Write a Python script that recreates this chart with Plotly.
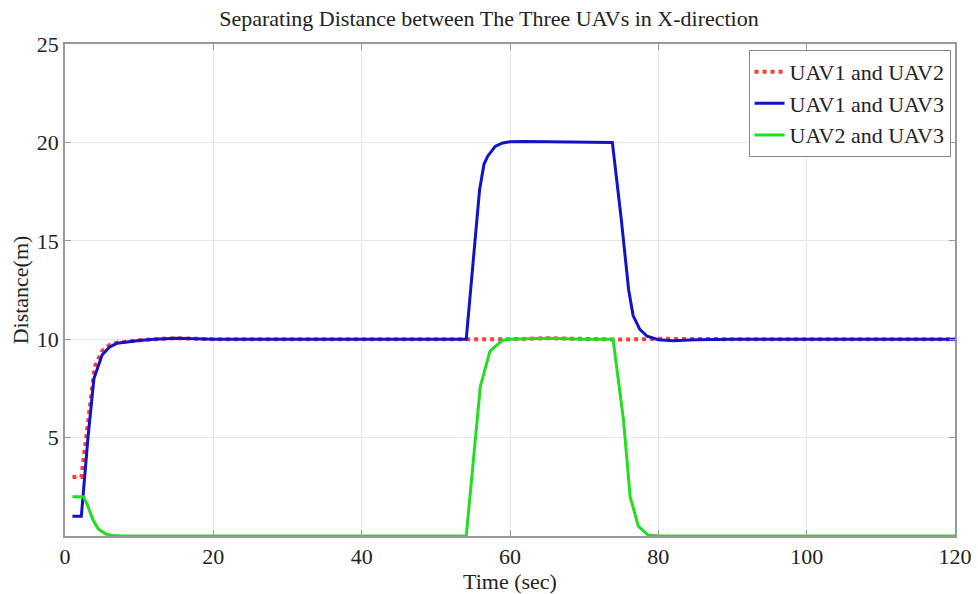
import plotly.graph_objects as go

# UAV1 and UAV2
t12 = [1, 2.2, 3.15, 4, 5, 6, 7, 8, 10, 12, 15, 20, 30, 54, 56, 58, 60, 65, 70, 75, 78, 80, 90, 120]
d12 = [3, 3, 5.9, 8.6, 9.4, 9.7, 9.82, 9.88, 9.95, 10.0, 10.05, 10.0, 10.0, 10.0, 9.95, 9.95, 10.0, 10.05, 10.0, 9.98, 10.0, 10.02, 10.0, 10.0]

# UAV1 and UAV3
t13 = [1, 2.2, 3.1, 3.9, 5, 6, 7, 8, 10, 12, 15, 20, 54.1, 55.9, 56.5, 57, 58, 59, 60, 62, 70, 73.8, 75.0, 76.0, 76.6, 77.5, 78.5, 80, 82, 85, 90, 120]
d13 = [1, 1, 5.0, 8.0, 9.2, 9.6, 9.8, 9.85, 9.93, 10.0, 10.05, 10.0, 10.0, 17.6, 18.9, 19.3, 19.8, 19.97, 20.03, 20.05, 20.0, 20.0, 16.1, 12.5, 11.2, 10.5, 10.15, 9.97, 9.92, 9.97, 10.0, 10.0]

# UAV2 and UAV3
t23 = [1, 2.5, 3, 3.8, 4.5, 5.5, 6.5, 8, 54.1, 56, 57.3, 59, 60, 65, 70, 73.9, 75.3, 76.2, 77.3, 78.6, 80, 120]
d23 = [2, 2, 1.6, 0.8, 0.35, 0.1, 0.02, 0, 0, 7.6, 9.4, 9.95, 10.0, 10.05, 10.0, 10.0, 5.9, 2.0, 0.5, 0.05, 0, 0]

xticks = [0, 20, 40, 60, 80, 100, 120]
yticks = [5, 10, 15, 20, 25]

font = "Liberation Serif, Times New Roman, serif"

fig = go.Figure()
fig.add_trace(go.Scatter(x=t12, y=d12, mode="lines", name="UAV1 and UAV2",
                         line=dict(color="#ff3c3c", width=4, dash="dot")))
fig.add_trace(go.Scatter(x=t13, y=d13, mode="lines", name="UAV1 and UAV3",
                         line=dict(color="#1212c8", width=3)))
fig.add_trace(go.Scatter(x=t23, y=d23, mode="lines", name="UAV2 and UAV3",
                         line=dict(color="#22dd22", width=3)))

axis_common = dict(showline=True, linecolor="#999999", linewidth=1.5, mirror="ticks",
                   ticks="inside", ticklen=6, tickcolor="#999999",
                   showgrid=True, gridcolor="#e8e8e8", gridwidth=1, zeroline=False,
                   automargin=False,
                   tickfont=dict(family=font, size=22, color="#222222"))

fig.update_layout(
    width=978, height=594,
    margin=dict(l=65, r=23, t=44, b=58),
    paper_bgcolor="white", plot_bgcolor="white",
    title=dict(text="Separating Distance between The Three UAVs in X-direction",
               x=0.5, xanchor="center", y=0.97, yanchor="middle",
               font=dict(family=font, size=22, color="#222222")),
    font=dict(family=font, color="#222222"),
    legend=dict(x=0.995, y=0.988, xanchor="right", yanchor="top",
                bgcolor="white", bordercolor="#888888", borderwidth=1,
                font=dict(family=font, size=22, color="#222222"),
                tracegroupgap=0, itemwidth=30),
    showlegend=True,
)
fig.update_xaxes(range=[0, 120], tickvals=xticks, ticktext=[str(v) for v in xticks],
                 title=dict(text="Time (sec)", font=dict(family=font, size=22), standoff=0),
                 **axis_common)
fig.update_yaxes(range=[0, 25], tickvals=yticks, ticktext=[str(v) for v in yticks],
                 title=dict(text="Distance(m)", font=dict(family=font, size=22), standoff=2),
                 **axis_common)

fig.write_html("out.html")
